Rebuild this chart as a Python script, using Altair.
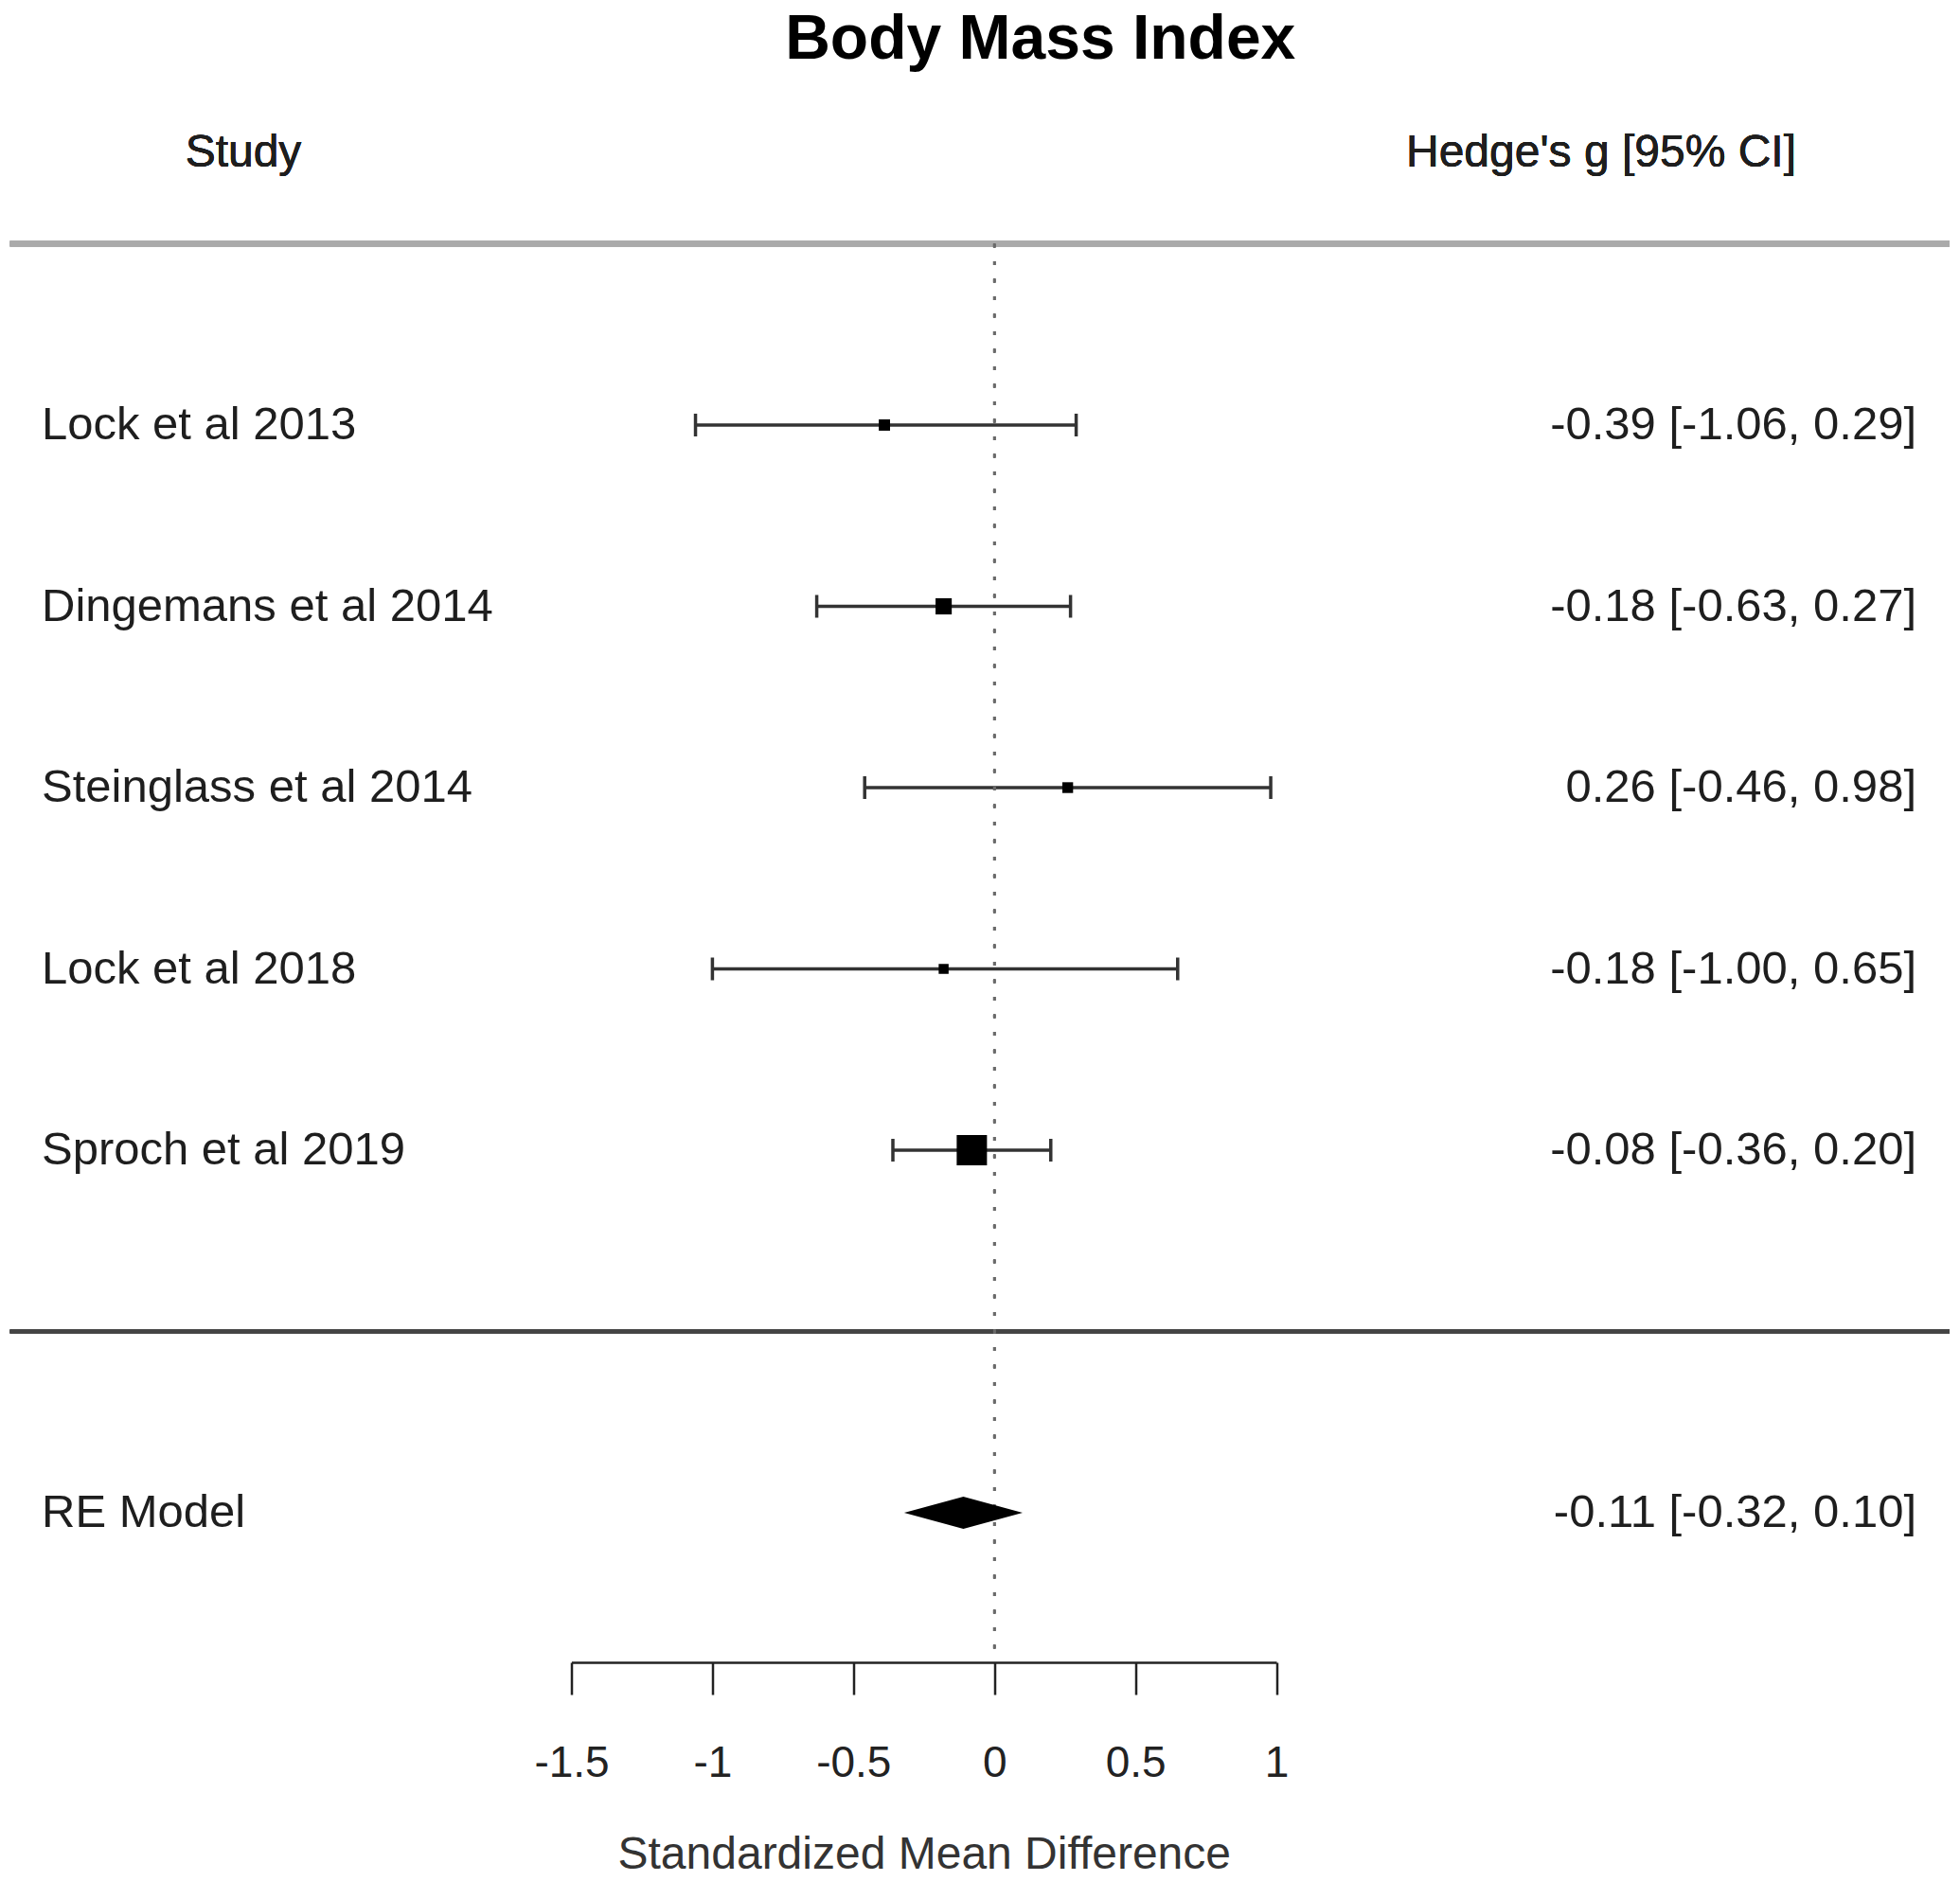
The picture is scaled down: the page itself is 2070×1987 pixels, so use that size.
import altair as alt
import pandas as pd

# ---- data ----
studies = ["Lock et al 2013", "Dingemans et al 2014", "Steinglass et al 2014",
           "Lock et al 2018", "Sproch et al 2019"]
estimates = [-0.39, -0.18, 0.26, -0.18, -0.08]
ci_low = [-1.06, -0.63, -0.46, -1.00, -0.36]
ci_high = [0.29, 0.27, 0.98, 0.65, 0.20]
weights = [9.5, 21.2, 8.3, 6.3, 54.7]          # relative weights (%) -> square size

re_label = "RE Model"
re_est = -0.11
re_low = -0.32
re_high = 0.10

x_ticks = [-1.5, -1, -0.5, 0, 0.5, 1]
chart_title = "Body Mass Index"
col_study = "Study"
col_effect = "Hedge's g [95% CI]"
x_title = "Standardized Mean Difference"

# ---- tables ----
def fmt(v):
    return f"{v:.2f}"

k = len(studies)
study_df = pd.DataFrame({
    "study": studies,
    "est": estimates,
    "lo": ci_low,
    "hi": ci_high,
    "w": weights,
    "row": [k - i for i in range(k)],
})
RE_ROW = -1
labels_df = pd.DataFrame({
    "study": studies + [re_label],
    "row": list(study_df["row"]) + [RE_ROW],
    "ci": [f"{fmt(e)} [{fmt(l)}, {fmt(h)}]" for e, l, h in zip(estimates, ci_low, ci_high)]
          + [f"{fmt(re_est)} [{fmt(re_low)}, {fmt(re_high)}]"],
})
DH = 0.089  # diamond half height in row units
diamond_df = pd.DataFrame({
    "x": [re_low, re_est, re_high],
    "y": [RE_ROW, RE_ROW - DH, RE_ROW],
    "y2": [RE_ROW, RE_ROW + DH, RE_ROW],
})

FONT = "Liberation Sans"
FS = 49
INK = "#1e1e1e"

xscale = alt.Scale(domain=[-1.5, 1], nice=False, zero=False)
yscale = alt.Scale(domain=[-1.825, 7.0], nice=False, zero=False)

x_axis = alt.Axis(
    values=x_ticks, labelExpr="toString(datum.value)", grid=False,
    domainColor="#222", domainWidth=2.5, tickColor="#222", tickWidth=2.5, tickSize=34,
    labelFont=FONT, labelFontSize=46, labelColor="#222", labelPadding=50,
    labelFlush=False, labelOverlap=False,
    title=x_title, titleFont=FONT, titleFontSize=48, titleFontWeight="normal",
    titleColor="#333", titlePadding=50,
)


def X(field=None, **kw):
    if field is None:
        return alt.X(scale=xscale, axis=x_axis, **kw)
    return alt.X(field, scale=xscale, axis=x_axis, **kw)


def Y(field=None, **kw):
    if field is None:
        return alt.Y(scale=yscale, axis=None, **kw)
    return alt.Y(field, scale=yscale, axis=None, **kw)


base = alt.Chart(study_df)

ci = base.mark_rule(color="#333", strokeWidth=3.5).encode(
    x=X("lo:Q"),
    x2="hi:Q",
    y=Y("row:Q"),
)

caps = base.transform_fold(["lo", "hi"], as_=["end", "val"]).mark_point(
    shape="M0,-1L0,1", size=24 * 24, strokeWidth=3.5, color="#333", filled=False, opacity=1
).encode(
    x=X("val:Q"),
    y=Y("row:Q"),
)

squares = base.transform_calculate(
    sz="pow(7.7 + 0.444 * datum.w, 2)"
).mark_square(filled=True, color="black", opacity=1).encode(
    x=X("est:Q"),
    y=Y("row:Q"),
    size=alt.Size("sz:Q", scale=None, legend=None),
)

diamond = alt.Chart(diamond_df).mark_area(color="black", orient="vertical", opacity=1).encode(
    x=X("x:Q"),
    y=Y("y:Q"),
    y2="y2:Q",
)

ref_line = alt.Chart(study_df).mark_rule(
    color="#6a6a6a", strokeWidth=2.5, strokeDash=[4, 14.5]
).encode(
    x=X(datum=0),
    y=Y(datum=6),
    y2=alt.value(1690),
)

top_line = alt.Chart(study_df).mark_rule(color="#aaaaaa", strokeWidth=6).encode(
    x=alt.value(-593), x2=alt.value(1455.5),
    y=Y(datum=6),
)
bottom_line = alt.Chart(study_df).mark_rule(color="#444444", strokeWidth=4).encode(
    x=alt.value(-593), x2=alt.value(1455.5),
    y=Y(datum=0),
)

left_text = alt.Chart(labels_df).mark_text(
    align="left", baseline="middle", font=FONT, fontSize=FS, color=INK
).encode(
    x=alt.value(-559.5),
    y=Y("row:Q"),
    text="study:N",
)
right_text = alt.Chart(labels_df).mark_text(
    align="right", baseline="middle", font=FONT, fontSize=FS, color=INK
).encode(
    x=alt.value(1420.5),
    y=Y("row:Q"),
    text="ci:N",
)

head_study = alt.Chart(study_df).mark_text(
    align="center", baseline="middle", font=FONT, fontSize=48, color=INK
).encode(
    x=alt.value(-346.5),
    y=Y(datum=6.5),
    text=alt.value(col_study),
)
head_effect = alt.Chart(study_df).mark_text(
    align="center", baseline="middle", font=FONT, fontSize=48, color=INK
).encode(
    x=alt.value(1087.5),
    y=Y(datum=6.5),
    text=alt.value(col_effect),
)

chart = alt.layer(
    ci, top_line, bottom_line, ref_line, caps, squares, diamond,
    left_text, right_text, head_study, head_effect,
).properties(
    width=744.5,
    height=1690,
    padding={"left": 595.5, "top": 58, "right": 714, "bottom": 219},
    autosize=alt.AutoSizeParams(type="none"),
    title=alt.TitleParams(
        chart_title, font=FONT, fontSize=66, fontWeight="bold", color="black",
        anchor="middle", frame="group", dx=123, offset=-10,
    ),
).configure_view(stroke=None)

chart.save("out.html", embed_options={"renderer": "svg", "actions": False})
